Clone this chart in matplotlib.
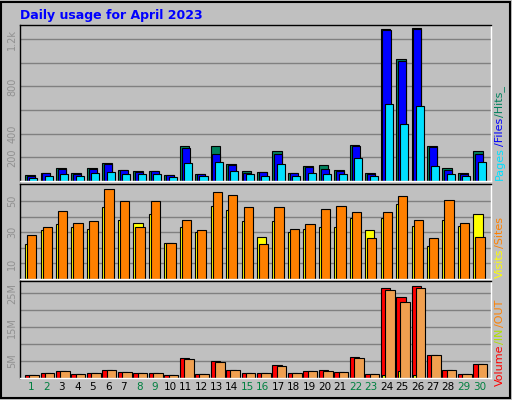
import numpy as np
import matplotlib.pyplot as plt
from matplotlib.patches import Rectangle

days = list(range(1, 31))
weekend = [1, 2, 8, 9, 15, 16, 22, 23, 29, 30]

hits = [48, 71, 113, 71, 113, 155, 96, 88, 88, 54, 294, 62, 294, 147, 88,
        79, 251, 71, 130, 138, 96, 308, 71, 1282, 1028, 1291, 299, 113, 71, 251]
files = [40, 65, 105, 59, 105, 147, 93, 79, 85, 51, 282, 59, 232, 138, 71,
         79, 232, 71, 121, 105, 88, 299, 62, 1274, 1011, 1282, 291, 96, 62, 232]
pages = [28, 45, 56, 45, 71, 79, 62, 62, 62, 37, 155, 45, 164, 88, 56,
         45, 147, 45, 71, 62, 56, 198, 45, 655, 486, 638, 130, 62, 45, 164]

visits = [22.4, 31.5, 35.4, 33.5, 32, 46, 38, 36, 42, 23, 33.5, 30, 47, 44, 37.4,
          27, 37.4, 30, 32, 33.5, 33.5, 39, 31.5, 39, 48, 34, 21, 38, 34, 42]
sites = [28.3, 33.5, 43.9, 36, 37.4, 57.6, 49.8, 33.5, 49.8, 23, 38, 31.5, 55.6, 53.7, 46,
         22.4, 46, 32, 35.4, 45, 47, 43, 26.3, 43, 53, 38, 26.3, 51, 36, 27]

volume = [1.0, 1.6, 2.2, 1.3, 1.6, 2.5, 1.9, 1.6, 1.6, 1.0, 5.8, 1.3, 4.9, 2.5, 1.6,
          1.6, 3.7, 1.6, 2.2, 2.5, 1.9, 6.1, 1.3, 26.6, 23.9, 27.2, 6.7, 2.5, 1.3, 4.0]
vol_in = [0, 0, 0, 0, 0, 0, 0, 0, 0, 0, 0, 0, 0, 0, 0,
          0, 0, 0, 0, 0, 0, 0, 0, 1.0, 2.0, 1.0, 0, 0, 0, 0]
vol_out = [1.0, 1.6, 2.2, 1.3, 1.6, 2.5, 1.9, 1.6, 1.6, 1.0, 5.5, 1.3, 4.6, 2.5, 1.6,
           1.6, 3.4, 1.6, 2.2, 2.2, 1.9, 5.8, 1.3, 26.0, 22.4, 26.6, 6.7, 2.5, 1.3, 4.0]

BG = '#c0c0c0'
fig = plt.figure(figsize=(5.12, 4.0), dpi=100, facecolor=BG)
fig.patches.append(Rectangle((0.002, 0.004), 0.994, 0.992, transform=fig.transFigure,
                             fill=False, edgecolor='black', lw=1.5))

W, H = 512, 400
def px_axes(x0, y0, x1, y1):
    return fig.add_axes([x0 / W, 1 - y1 / H, (x1 - x0) / W, (y1 - y0) / H])

ax1 = px_axes(20, 25, 491, 181)
ax2 = px_axes(20, 184, 491, 279)
ax3 = px_axes(20, 281, 491, 378)

idx = np.arange(30)

def style(ax, ticks, labels, top):
    ax.set_facecolor(BG)
    ax.set_xlim(-0.33, 30.14)
    ax.set_ylim(0, top)
    ax.set_yticks(ticks)
    ax.set_yticklabels(labels, rotation=90, va='center', color='#909090', fontsize=7)
    ax.yaxis.grid(True, color='#808080', lw=1)
    ax.set_axisbelow(True)
    ax.tick_params(axis='y', length=0, pad=2)
    ax.tick_params(axis='x', length=0)
    ax.set_xticks([])
    for s in ax.spines.values():
        s.set_color('black')
        s.set_linewidth(1)
    ax.spines['right'].set_color('white')
    ax.spines['bottom'].set_color('white')

def bars(ax, offset, vals, width, color):
    ax.bar(idx + offset, vals, width=width, align='edge', color=color,
           edgecolor='black', linewidth=0.8)

style(ax1, [200, 400, 600, 800, 1000, 1200], ['200', '400', '', '800', '', '1.2k'], 1319)
bars(ax1, 0.0, hits, 0.62, '#00805c')
bars(ax1, 0.12, files, 0.52, '#0000ff')
bars(ax1, 0.28, pages, 0.52, '#00e0ff')

style(ax2, [10, 20, 30, 40, 50], ['10', '', '30', '', '50'], 61)
bars(ax2, 0.0, visits, 0.6, '#ffff00')
bars(ax2, 0.13, sites, 0.6, '#ff8000')

style(ax3, [5, 10, 15, 20, 25], ['5M', '', '15M', '', '25M'], 28.6)
bars(ax3, 0.0, volume, 0.62, '#ff0000')
bars(ax3, 0.1, vol_in, 0.2, '#ffff00')
bars(ax3, 0.28, vol_out, 0.62, '#f0a050')

ax3.set_xticks(idx + 0.38)
ax3.set_xticklabels([str(d) for d in days], fontsize=7.5)
for lab, d in zip(ax3.get_xticklabels(), days):
    lab.set_color('#008040' if d in weekend else 'black')
ax3.tick_params(axis='x', pad=3)

fig.text(20 / W, 1 - 15 / H, 'Daily usage for April 2023', color='#0000ff',
         fontsize=9, fontweight='bold', va='center', ha='left')

renderer = fig.canvas.get_renderer()

def side(parts, y_start, x=500):
    # stack rotated text pieces upward, each starting where the previous ends
    y = y_start
    for txt, color in parts:
        t = fig.text(x / W, 1 - y / H, txt, color=color, rotation=90,
                     fontsize=8, ha='center', va='bottom')
        bb = t.get_window_extent(renderer)
        y -= bb.height + 1

side([('Pages', '#00e0ff'), ('/Files', '#0000ff'), ('/Hits_', '#00805c')], 180)
side([('Visits', '#ffff00'), ('/Sites', '#ff8000')], 278)
side([('Volume', '#ff0000'), ('/IN', '#b0e000'), ('/OUT', '#ff8000')], 386)

fig.savefig('out.png', dpi=100, facecolor=BG)
